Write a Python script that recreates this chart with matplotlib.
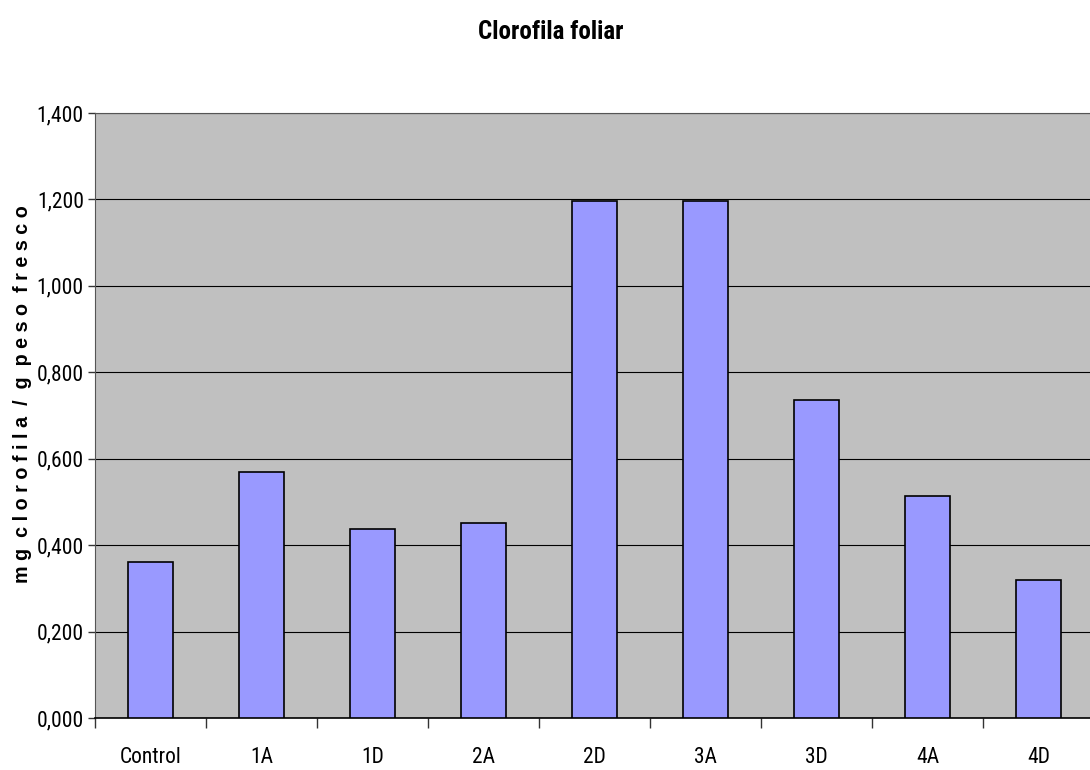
import matplotlib
matplotlib.use("Agg")
import matplotlib.pyplot as plt
from matplotlib import font_manager
from matplotlib.ticker import FuncFormatter
import numpy as np

# clorofila por tratamiento
categorias = ['Control', '1A', '1D', '2A', '2D', '3A', '3D', '4A', '4D']
clorofila = [0.362, 0.569, 0.438, 0.451, 1.196, 1.196, 0.735, 0.514, 0.320]
yticks = [0.0, 0.2, 0.4, 0.6, 0.8, 1.0, 1.2, 1.4]


def fuente_estrecha():
    # busca una sans estrecha tipo Arial Narrow
    for fam in ['Liberation Sans Narrow', 'Roboto Condensed', 'DejaVu Sans Condensed']:
        try:
            font_manager.findfont(font_manager.FontProperties(family=fam), fallback_to_default=False)
            return fam, 'normal'
        except ValueError:
            pass
    return 'DejaVu Sans', 'condensed'


narrow, stretch = fuente_estrecha()
plt.rcParams['font.family'] = [narrow, 'DejaVu Sans']
plt.rcParams['font.stretch'] = stretch

fig = plt.figure(figsize=(10.9, 7.7), dpi=100)
ax = fig.add_axes([95/1090, 52/770, 999/1090, 605/770])
ax.set_facecolor('#C0C0C0')

x = np.arange(len(categorias))
ax.bar(x, clorofila, width=0.4, color='#9999FF', edgecolor='black', linewidth=1.2, zorder=3)

ax.set_ylim(0, 1.4)
ax.set_xlim(-0.5, len(categorias) - 0.5)
ax.set_yticks(yticks)
ax.yaxis.set_major_formatter(FuncFormatter(lambda v, p: f'{int(v + 1e-9)},{int(round((v % 1) * 1000)) % 1000:03d}'))
ax.yaxis.grid(True, color='black', linewidth=0.8, zorder=1)
ax.set_axisbelow(True)

# categorias centradas, marcas entre ellas
ax.set_xticks(x)
ax.set_xticklabels(categorias, fontsize=15.5)
ax.set_xticks(np.arange(-0.5, len(categorias)), minor=True)
ax.tick_params(axis='x', which='major', length=0, pad=21)
ax.tick_params(axis='x', which='minor', length=7, width=1, color='#333333')
ax.tick_params(axis='y', length=5, width=1, color='#333333', labelsize=15.5, pad=3)

ax.spines['right'].set_visible(False)
ax.spines['top'].set_color('#555555')
ax.spines['left'].set_color('#555555')
ax.spines['bottom'].set_color('black')
ax.spines['bottom'].set_linewidth(1.2)

ax.set_ylabel('m g  c l o r o f i l a  /  g  p e s o  f r e s c o', fontsize=14.2,
              fontweight='bold', family=['Liberation Sans', 'DejaVu Sans'], fontstretch='normal')
ax.yaxis.set_label_coords(-0.063, 0.535)
fig.text(0.505, 0.958, 'Clorofila foliar', ha='center', va='center', fontsize=18, fontweight='bold')

fig.savefig('out.png', dpi=100)
